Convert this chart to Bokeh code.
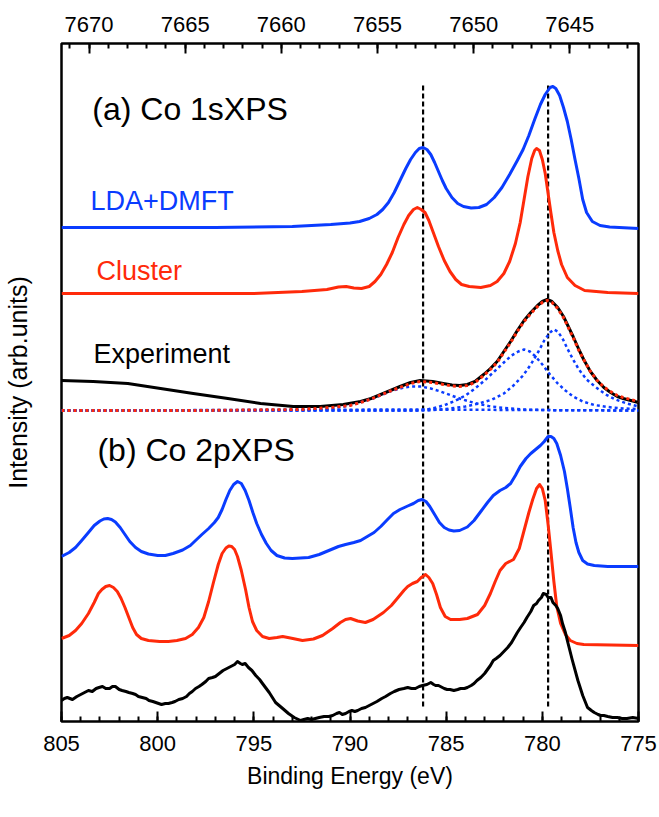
from bokeh.plotting import figure
from bokeh.models import Range1d, LinearAxis, FixedTicker, Label
from bokeh.embed import file_html
from bokeh.resources import INLINE

# ---------------- data (binding energy in eV, intensity in arb. units) ----------------
# (a) Co 1s XPS
dmft_1s_e = [805.0, 797.0, 793.0, 791.0, 790.0, 789.5, 789.0, 788.6, 788.3, 788.0, 787.7, 787.4, 787.1,
             786.85, 786.6, 786.4, 786.2, 786.0, 785.8, 785.6, 785.4, 785.2, 785.0, 784.7, 784.4, 784.1,
             783.7, 783.3, 782.9, 782.5, 782.1, 781.7, 781.3, 781.0, 780.7, 780.4, 780.1, 779.85, 779.6,
             779.45, 779.3, 779.1, 778.9, 778.7, 778.5, 778.3, 778.1, 777.9, 777.7, 777.4, 777.0, 776.5, 775.0]
dmft_1s_i = [494, 494, 495, 497, 498.5, 500, 503, 507, 512, 519, 529, 541, 553,
             562, 569, 573, 574, 572, 567, 559, 550, 541, 533, 524, 518, 515,
             513.5, 514, 517, 524, 534, 547, 561, 572, 586, 602, 617, 627, 634,
             635, 633, 626, 614, 600, 582, 562, 543, 522, 509, 500, 496, 494.5, 493]

cluster_1s_e = [805.0, 795.0, 792.5, 791.2, 790.6, 790.2, 789.8, 789.4, 789.0, 788.7, 788.4, 788.1, 787.8,
                787.5, 787.2, 786.95, 786.7, 786.5, 786.3, 786.1, 785.9, 785.65, 785.4, 785.1, 784.8, 784.5,
                784.2, 783.8, 783.2, 782.7, 782.35, 782.0, 781.7, 781.4, 781.15, 780.95, 780.75, 780.55,
                780.4, 780.3, 780.15, 780.0, 779.85, 779.7, 779.55, 779.4, 779.2, 779.0, 778.7, 778.3,
                777.8, 776.6, 775.0]
cluster_1s_i = [428, 428, 430, 432, 434.5, 435, 433.5, 433, 435, 440, 447, 457, 469,
                484, 497, 506, 512, 514, 512, 509, 501, 488, 475, 461, 450, 442,
                437, 435, 434, 436, 440, 448, 460, 478, 499, 522, 545, 563,
                571, 573, 571, 562, 548, 528, 508, 489, 471, 457, 444, 436,
                431, 429, 428]

exp_1s_e = [805.0, 803.35, 801.55, 799.85, 798.15, 796.35, 794.65, 792.95, 791.55, 790.35, 789.45, 788.9,
            788.4, 787.9, 787.4, 786.85, 786.35, 785.7, 785.15, 784.7, 784.3, 783.9, 783.5, 783.05, 782.7,
            782.35, 782.0, 781.65, 781.3, 780.95, 780.6, 780.25, 780.0, 779.75, 779.5, 779.2, 778.9,
            778.65, 778.4, 778.1, 777.85, 777.5, 777.15, 776.8, 776.45, 776.1, 775.8, 775.4, 775.0]
exp_1s_i = [341, 340, 338, 333, 328, 323, 318, 315, 315, 317, 320, 323,
            327, 331, 335, 339, 341, 340, 338, 336.5, 336, 337, 340, 347, 353,
            360, 370, 380, 391, 401, 409, 416, 420, 422, 420, 414, 405,
            395, 385, 372, 362, 350, 341, 334, 329, 325, 323, 321, 319]

fit_1s_e = [805.0, 797.8, 792.6, 791.0, 790.0, 789.45, 788.9, 788.4, 787.9, 787.4, 786.85, 786.35, 785.7,
            785.15, 784.7, 784.3, 783.9, 783.5, 783.05, 782.7, 782.35, 782.0, 781.65, 781.3, 780.95, 780.6,
            780.25, 780.0, 779.75, 779.5, 779.2, 778.9, 778.65, 778.4, 778.1, 777.85, 777.5, 777.15,
            776.8, 776.45, 776.1, 775.8, 775.4, 775.0]
fit_1s_i = [311, 311, 312, 314, 316, 319, 322.5, 326.5, 330.5, 334, 338, 340, 339,
            337, 335.5, 335, 336, 339, 346, 352, 359, 369, 379, 390, 400, 408,
            415, 419, 421, 419, 413, 404, 394, 384, 371, 362, 350, 341,
            334.5, 330, 326, 324, 322, 320]

bg_1s_e = [805.0, 787.0, 775.0]
bg_1s_i = [311, 312, 311]

compA_e = [805.0, 792.5, 791.5, 790.8, 790.3, 789.8, 789.3, 788.8, 788.3, 787.8, 787.3, 786.8, 786.3,
           785.8, 785.3, 784.8, 784.3, 783.8, 783.3, 782.8, 782.0, 781.0, 779.5, 775.0]
compA_i = [311, 311.5, 312, 313.5, 315, 317, 320, 323, 327, 331, 333.5, 335, 335,
           333, 330, 326.5, 323, 320, 317.5, 315.5, 313.5, 312, 311.3, 311]

compB_e = [805.0, 786.5, 786.0, 785.5, 785.0, 784.5, 784.0, 783.5, 783.0, 782.5, 782.0, 781.6, 781.25,
           780.95, 780.65, 780.35, 780.0, 779.6, 779.2, 778.8, 778.4, 777.9, 777.3, 776.6, 775.8, 775.0]
compB_i = [311, 311, 312, 314, 317, 321, 326, 333, 341, 350, 359, 366, 370,
           372, 370, 365, 357, 347, 338, 331, 325, 320, 316.5, 314.5, 313, 312.5]

compC_e = [805.0, 786.0, 785.0, 784.0, 783.3, 782.6, 782.0, 781.5, 781.0, 780.6, 780.2, 779.9, 779.6,
           779.4, 779.2, 778.95, 778.7, 778.4, 778.1, 777.7, 777.2, 776.7, 776.2, 775.6, 775.0]
compC_i = [311, 311, 312.5, 315, 318, 322, 328, 336, 346, 357, 370, 381, 389,
           392, 390, 383, 373, 362, 352, 342, 334, 327, 322, 318, 315]

# (b) Co 2p XPS
dmft_2p_e = [805.0, 804.6, 804.27, 803.95, 803.6, 803.3, 803.0, 802.8, 802.6, 802.4, 802.2, 801.95, 801.7,
             801.45, 801.15, 800.85, 800.48, 800.0, 799.6, 799.2, 798.7, 798.3, 798.03, 797.7, 797.35,
             797.05, 796.85, 796.65, 796.45, 796.25, 796.05, 795.85, 795.65, 795.45, 795.25, 795.05,
             794.85, 794.6, 794.35, 794.1, 793.8, 793.4, 793.0, 792.15, 791.6, 791.1, 790.6, 790.23,
             789.8, 789.45, 789.1, 788.75, 788.4, 788.05, 787.74, 787.4, 787.0, 786.7, 786.45, 786.25,
             786.05, 785.85, 785.6, 785.35, 785.1, 784.85, 784.6, 784.3, 783.9, 783.55, 783.2, 782.85,
             782.55, 782.2, 781.9, 781.65, 781.4, 781.15, 780.85, 780.6, 780.35, 780.1, 779.9, 779.7,
             779.55, 779.4, 779.25, 779.05, 778.85, 778.7, 778.55, 778.4, 778.25, 778.1, 777.9, 777.65,
             777.3, 776.6, 775.0]
dmft_2p_i = [165, 169, 174, 181, 189, 196, 200.5, 202.5, 203, 202, 199.5, 194, 187,
             180, 174, 170, 167.5, 166, 166, 168, 171.5, 176, 181, 187, 193,
             199, 204, 212, 222, 231, 237, 240, 238, 231, 221, 209,
             198, 187, 178, 171, 166, 163.5, 163, 164, 167, 171, 175, 177,
             179, 181, 185, 189, 195, 202, 208, 212, 215.5, 218, 221, 222,
             220, 215, 207, 199, 194, 191.5, 190.5, 191, 194.5, 201, 210, 219,
             226, 231, 234, 238, 246, 255, 263, 268, 272, 276, 280, 285,
             285, 283, 278, 266, 250, 233, 214, 194, 179, 169, 161, 157.5,
             156, 155, 155]

cluster_2p_e = [805.0, 804.6, 804.27, 803.95, 803.6, 803.3, 803.08, 802.9, 802.7, 802.5, 802.3, 802.1, 801.9,
                801.7, 801.5, 801.3, 801.1, 800.85, 800.48, 799.9, 799.44, 799.0, 798.55, 798.2, 797.88,
                797.6, 797.35, 797.1, 796.85, 796.65, 796.45, 796.3, 796.15, 796.0, 795.85, 795.65, 795.43,
                795.25, 795.07, 794.85, 794.55, 794.2, 793.8, 793.5, 793.1, 792.47, 791.9, 791.43, 790.9,
                790.5, 790.23, 789.97, 789.6, 789.2, 788.8, 788.26, 787.85, 787.5, 787.2, 787.0, 786.75,
                786.5, 786.3, 786.07, 785.9, 785.7, 785.5, 785.3, 785.05, 784.77, 784.3, 783.9, 783.37,
                783.0, 782.7, 782.45, 782.2, 781.9, 781.5, 781.2, 780.95, 780.7, 780.5, 780.3, 780.14,
                780.0, 779.85, 779.7, 779.55, 779.4, 779.25, 779.05, 778.8, 778.55, 778.2, 777.85, 775.0]
cluster_2p_i = [83, 86, 91, 98, 108, 119, 128, 132, 135, 136, 134, 130, 123,
                114, 104, 94, 87, 83, 81, 80, 80, 81, 83, 87, 94,
                104, 120, 139, 157, 168, 173.5, 175.5, 175, 172, 165, 151, 132,
                114, 100, 91, 85, 83, 84, 85, 83.5, 81, 82.5, 86, 93,
                99, 102, 103, 100.5, 99, 102, 109, 116, 124, 131, 135, 138,
                140, 144, 147, 144, 138, 127, 114, 105, 102, 102, 103, 107,
                116, 128, 140, 151, 158, 162, 173, 191, 209, 222, 233, 237,
                233, 221, 197, 169, 140, 115, 98, 87, 81, 78, 77, 76]

exp_2p_e = [805.0, 804.85, 804.7, 804.43, 804.2, 804.0, 803.8, 803.6, 803.4, 803.2, 803.05, 802.87, 802.7,
            802.5, 802.35, 802.2, 802.0, 801.85, 801.65, 801.5, 801.3, 801.15, 801.0, 800.8, 800.6,
            800.45, 800.25, 800.1, 799.95, 799.8, 799.6, 799.44, 799.25, 799.1, 798.9, 798.7, 798.5,
            798.35, 798.2, 798.03, 797.85, 797.7, 797.5, 797.35, 797.15, 797.0, 796.8, 796.6, 796.4,
            796.2, 796.0, 795.85, 795.7, 795.6, 795.45, 795.28, 795.1, 794.9, 794.7, 794.55, 794.2,
            793.87, 793.5, 793.2, 792.9, 792.57, 792.4, 792.2, 792.0, 791.8, 791.6, 791.35, 791.1,
            790.9, 790.7, 790.55, 790.4, 790.23, 790.05, 789.9, 789.75, 789.6, 789.4, 789.2, 789.0,
            788.8, 788.6, 788.35, 788.15, 787.9, 787.7, 787.45, 787.2, 787.0, 786.8, 786.6, 786.4,
            786.23, 786.0, 785.8, 785.65, 785.55, 785.4, 785.3, 785.1, 784.95, 784.8, 784.6, 784.4,
            784.25, 784.05, 783.9, 783.7, 783.55, 783.4, 783.2, 783.0, 782.85, 782.7, 782.55, 782.4,
            782.2, 782.0, 781.8, 781.6, 781.45, 781.3, 781.13, 780.95, 780.8, 780.6, 780.45, 780.3,
            780.2, 780.05, 779.95, 779.8, 779.7, 779.55, 779.45, 779.3, 779.2, 779.05, 778.95, 778.8,
            778.7, 778.45, 778.15, 777.9, 777.65, 777.45, 777.3, 777.1, 776.97, 776.8, 776.6, 776.35,
            776.1, 775.85, 775.6, 775.3, 775.0]
exp_2p_i = [21, 23, 24, 22, 25, 27, 29, 31, 30, 33, 34, 35, 33,
            33, 35, 35, 32, 31, 30, 29, 28, 27, 25, 24, 23,
            21, 20, 19, 18, 17, 18, 18, 19, 20, 22, 23, 25,
            28, 30, 33, 35, 37, 40, 43, 44, 45, 48, 51, 53,
            55, 57, 60, 58, 57, 58, 54, 51, 46, 42, 38, 29,
            19, 13, 8, 4, 1, 2, 3, 2, 3, 4, 5, 5,
            6, 8, 9, 7, 8, 10, 11, 10, 11, 13, 14, 16,
            18, 20, 23, 25, 28, 30, 32, 33, 34, 33, 33, 35,
            36, 37, 39, 37, 36, 36, 35, 33, 32, 32, 31, 32,
            33, 33, 34, 36, 38, 41, 44, 48, 52, 56, 61, 63,
            66, 70, 74, 79, 84, 89, 94, 99, 104, 110, 116, 118,
            121, 124, 128, 127, 124, 124, 119, 116, 113, 106, 98, 89,
            81, 62, 41, 26, 14, 11, 9, 7, 6, 6, 5, 4,
            4, 3, 3, 4, 3]

peak_marks = [786.2, 779.7]

bottom_ticks = [805, 800, 795, 790, 785, 780, 775]
top_ticks = [7670, 7665, 7660, 7655, 7650, 7645]

# ---------------- figure ----------------
BLUE = "#0A3CFF"
RED = "#FF2A0A"
FONT = "Liberation Sans"

p = figure(width=659, height=817, x_range=Range1d(805, 775), y_range=Range1d(0, 678),
           output_backend="svg", toolbar_location=None,
           x_axis_location=None, y_axis_location=None,
           min_border_left=61, min_border_right=21, min_border_top=43, min_border_bottom=96)
p.grid.visible = False
p.background_fill_color = "white"
p.border_fill_color = "white"
p.outline_line_color = "black"
p.outline_line_width = 2.5


def style_axis(ax):
    ax.axis_line_color = None
    ax.major_tick_line_color = "black"
    ax.major_tick_line_width = 2
    ax.minor_tick_line_color = "black"
    ax.minor_tick_line_width = 2
    ax.major_tick_in = 10
    ax.major_tick_out = 0
    ax.minor_tick_in = 5
    ax.minor_tick_out = 0
    ax.major_label_text_font = FONT
    ax.major_label_text_font_size = "22px"
    ax.major_label_text_color = "black"
    ax.axis_label_text_font = FONT
    ax.axis_label_text_font_size = "23px"
    ax.axis_label_text_font_style = "normal"
    ax.axis_label_text_color = "black"


xb = LinearAxis(ticker=FixedTicker(ticks=bottom_ticks, minor_ticks=list(range(775, 806))),
                axis_label="Binding Energy (eV)")
style_axis(xb)
xb.major_label_standoff = 14
xb.axis_label_standoff = 9
p.add_layout(xb, "below")

p.extra_x_ranges = {"top": Range1d(7671.43, 7641.43)}
xt = LinearAxis(x_range_name="top",
                ticker=FixedTicker(ticks=top_ticks, minor_ticks=list(range(7642, 7672))))
style_axis(xt)
xt.major_label_standoff = 12
p.add_layout(xt, "above")

yl = LinearAxis(ticker=FixedTicker(ticks=[]), axis_label="Intensity (arb.units)")
style_axis(yl)
yl.axis_label_text_font_size = "25px"
yl.axis_label_standoff = 30
p.add_layout(yl, "left")

# vertical dashed markers
p.segment(x0=peak_marks, x1=peak_marks, y0=[15, 15], y1=[638, 638],
          line_color="black", line_width=2.2, line_dash="5 3")

# 1s spectra
p.line(dmft_1s_e, dmft_1s_i, line_color=BLUE, line_width=3, line_join="round")
p.line(cluster_1s_e, cluster_1s_i, line_color=RED, line_width=3, line_join="round")
p.line(exp_1s_e, exp_1s_i, line_color="black", line_width=3, line_join="round")
for ce, ci in [(bg_1s_e, bg_1s_i), (compA_e, compA_i), (compB_e, compB_i), (compC_e, compC_i)]:
    p.line(ce, ci, line_color=BLUE, line_width=2.5, line_dash="3 3")
p.line(fit_1s_e, fit_1s_i, line_color=RED, line_width=3, line_dash="3 3")

# 2p spectra
p.line(dmft_2p_e, dmft_2p_i, line_color=BLUE, line_width=3, line_join="round")
p.line(cluster_2p_e, cluster_2p_i, line_color=RED, line_width=3, line_join="round")
p.line(exp_2p_e, exp_2p_i, line_color="black", line_width=3, line_join="round")

# labels
def add_label(x, y, txt, color, size):
    p.add_layout(Label(x=x, y=y, text=txt, text_color=color, text_font=FONT,
                       text_font_size=size, text_baseline="alphabetic", text_align="left"))

add_label(803.4, 613, "(a) Co 1sXPS", "black", "32px")
add_label(803.49, 521, "LDA+DMFT", BLUE, "27px")
add_label(803.18, 451, "Cluster", RED, "27px")
add_label(803.34, 368, "Experiment", "black", "27px")
add_label(803.13, 272, "(b) Co 2pXPS", "black", "32px")

open("out.html", "w").write(file_html(p, INLINE))
